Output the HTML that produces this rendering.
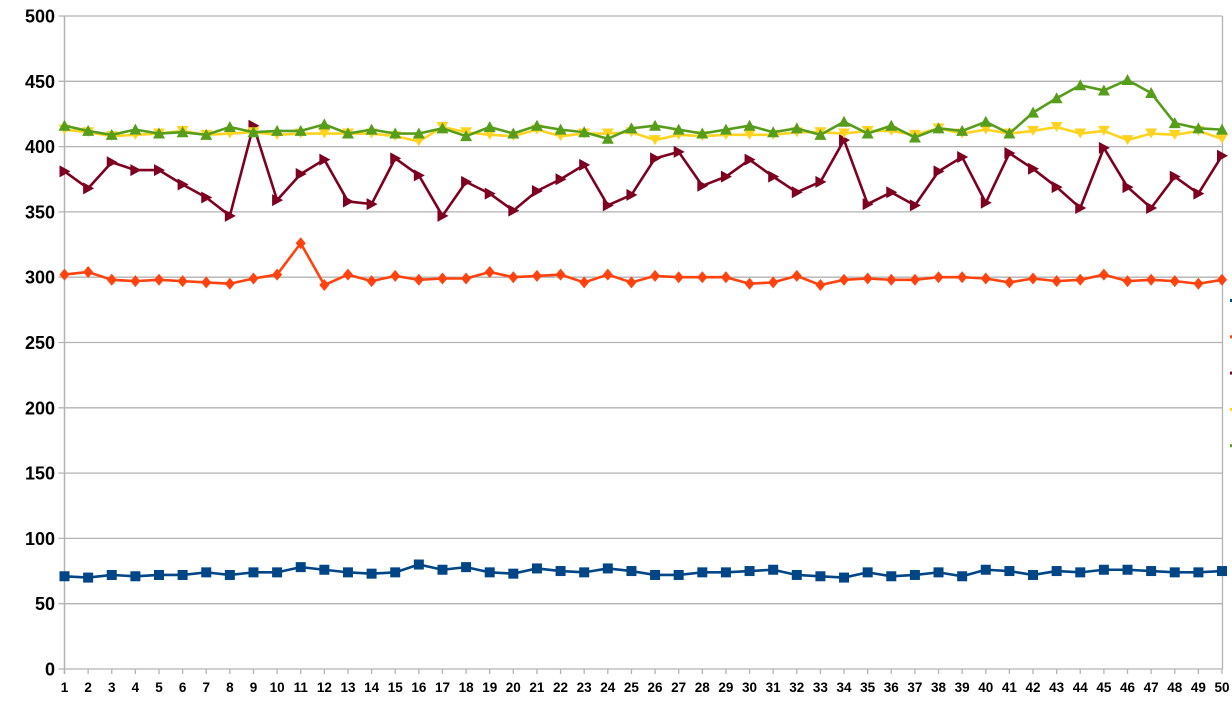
<!DOCTYPE html>
<html><head><meta charset="utf-8"><style>
html,body{margin:0;padding:0;background:#fff;}
svg{display:block;font-family:"Liberation Sans",sans-serif;font-weight:bold;}
</style></head><body>
<svg id="chart" width="1232" height="703" viewBox="0 0 1232 703"></svg>
<script>
const categories = Array.from({length:50},(_,i)=>String(i+1));
const yTicks = [0,50,100,150,200,250,300,350,400,450,500];
const blueValues = [71,70,72,71,72,72,74,72,74,74,78,76,74,73,74,80,76,78,74,73,77,75,74,77,75,72,72,74,74,75,76,72,71,70,74,71,72,74,71,76,75,72,75,74,76,76,75,74,74,75];
const orangeValues = [302,304,298,297,298,297,296,295,299,302,326,294,302,297,301,298,299,299,304,300,301,302,296,302,296,301,300,300,300,295,296,301,294,298,299,298,298,300,300,299,296,299,297,298,302,297,298,297,295,298];
const maroonValues = [381,368,388,382,382,371,361,347,416,359,379,390,358,356,391,378,347,373,364,351,366,375,386,355,363,391,396,370,377,390,377,365,373,405,356,365,355,381,392,357,395,383,369,353,399,369,353,377,364,393];
const yellowValues = [413,411,408,409,410,412,409,410,411,409,410,410,410,410,408,404,415,411,409,408,413,408,410,410,411,405,409,408,409,409,409,411,411,410,412,412,409,414,410,413,410,412,415,410,412,405,410,409,412,406];
const greenValues = [416,412,409,413,410,411,409,415,411,412,412,417,410,413,410,410,414,408,415,410,416,413,411,406,414,416,413,410,413,416,411,414,409,419,410,416,407,414,412,419,410,426,437,447,443,451,441,418,414,413];

const NS='http://www.w3.org/2000/svg';
const svg=document.getElementById('chart');
const X0=64.5,X1=1222,Y0=669,Y1=16,VMAX=500;
const xPos=i=>X0+(X1-X0)*i/(categories.length-1);
const yPos=v=>Y0-(Y0-Y1)*v/VMAX;
function mk(tag,attrs,parent){const e=document.createElementNS(NS,tag);for(const k in attrs)e.setAttribute(k,attrs[k]);(parent||svg).appendChild(e);return e;}

// grid + y labels
yTicks.forEach(t=>{
  const y=yPos(t);
  const g=mk('line',{x1:X0-6,x2:X1,y1:y,y2:y,stroke:'#b3b3b3','stroke-width':1.3});
  
  
  const tx=mk('text',{x:55,y:y+6.5,'text-anchor':'end','font-size':18,fill:'#000'});
  tx.textContent=t;
  
  
});
// axes
const ax=mk('line',{x1:X0,x2:X0,y1:Y1,y2:Y0+5,stroke:'#b3b3b3','stroke-width':1.5});


const rx=mk('line',{x1:X1+0.5,x2:X1+0.5,y1:Y1,y2:Y0,stroke:'#b3b3b3','stroke-width':1.3});


categories.forEach((c,i)=>{
  const x=xPos(i);
  const tk=mk('line',{x1:x,x2:x,y1:Y0,y2:Y0+5,stroke:'#b3b3b3','stroke-width':1.3});
  
  
  const tx=mk('text',{x:x,y:692,'text-anchor':'middle','font-size':13.5,fill:'#000'});
  tx.textContent=c;
  
  
});

function marker(type,x,y,color,parent){
  let e;
  if(type==='square') e=mk('rect',{x:x-5,y:y-5,width:10,height:10,fill:color},parent);
  else if(type==='diamond') e=mk('polygon',{points:`${x},${y-6} ${x+5},${y} ${x},${y+6} ${x-5},${y}`,fill:color},parent);
  else if(type==='down') e=mk('polygon',{points:`${x-6},${y-5} ${x+6},${y-5} ${x},${y+5}`,fill:color},parent);
  else if(type==='up') e=mk('polygon',{points:`${x-6},${y+5} ${x+6},${y+5} ${x},${y-6}`,fill:color},parent);
  else e=mk('polygon',{points:`${x-5},${y-6} ${x+6},${y} ${x-5},${y+6}`,fill:color},parent);
  return e;
}
const series=[
  {name:'series-blue',vals:blueValues,color:'#004586',m:'square'},
  {name:'series-orange',vals:orangeValues,color:'#ff420e',m:'diamond'},
  {name:'series-maroon',vals:maroonValues,color:'#7e0021',m:'right'},
  {name:'series-yellow',vals:yellowValues,color:'#ffd320',m:'down'},
  {name:'series-green',vals:greenValues,color:'#579d1c',m:'up'}
];
series.forEach(s=>{
  const g=mk('g',{});
  
  
  const pts=s.vals.map((v,i)=>xPos(i)+','+yPos(v)).join(' ');
  const pl=mk('polyline',{points:pts,fill:'none',stroke:s.color,'stroke-width':2.6,'stroke-linejoin':'round'},g);
  
  
  s.vals.forEach((v,i)=>{
    const m=marker(s.m,xPos(i),yPos(v),s.color,g);
    
    
  });
});
// clipped legend markers at right edge
series.forEach((s,i)=>{
  const r=mk('rect',{x:1230,y:299+i*36.3,width:3,height:3,fill:s.color});
  
  
});
</script>
</body></html>
